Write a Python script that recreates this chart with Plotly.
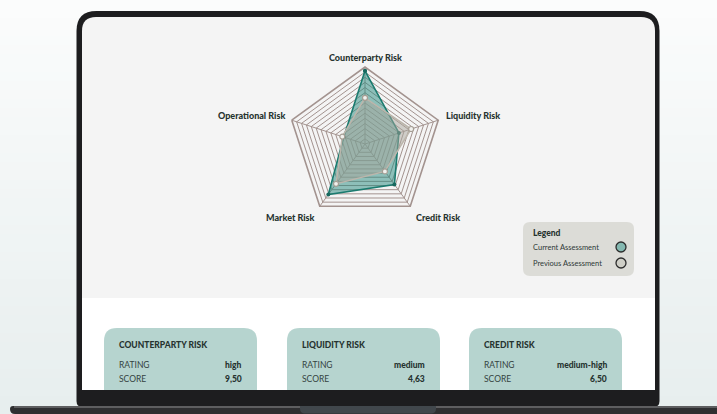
import plotly.graph_objects as go

# ---------------- data ----------------
categories = ["Counterparty Risk", "Liquidity Risk", "Credit Risk", "Market Risk", "Operational Risk"]
current_scores = [9.5, 4.63, 6.5, 8.1, 2.9]
previous_scores = [6.0, 6.3, 4.4, 6.4, 3.1]
series_names = ["Current Assessment", "Previous Assessment"]
legend_title = "Legend"
card_titles = ["COUNTERPARTY RISK", "LIQUIDITY RISK", "CREDIT RISK"]
card_ratings = ["high", "medium", "medium-high"]
card_scores = [9.50, 4.63, 6.50]
rating_label = "RATING"
score_label = "SCORE"
radial_max = 10
ring_count = 15

# ---------------- style ----------------
W, H = 717, 414
FONT = "Lato"
DARK = "#26332f"
GRID = "#a3938f"
TEAL_LINE = "#1b7b6f"
TEAL_FILL = "rgba(38,138,125,0.5)"
GRAY_LINE = "#bcb6ac"
GRAY_FILL = "rgba(170,165,155,0.5)"
CARD_FILL = "#b6d4cf"

cx, cy, R = 365, 144, 77


def rrect(x0, y0, x1, y1, rtl=0, rtr=0, rbr=0, rbl=0):
    return (f"M {x0+rtl},{y0} L {x1-rtr},{y0} Q {x1},{y0} {x1},{y0+rtr} "
            f"L {x1},{y1-rbr} Q {x1},{y1} {x1-rbr},{y1} L {x0+rbl},{y1} "
            f"Q {x0},{y1} {x0},{y1-rbl} L {x0},{y0+rtl} Q {x0},{y0} {x0+rtl},{y0} Z")


def pshape(path, fill, line=None, lw=0, layer="below"):
    return dict(type="path", path=path, xref="x", yref="y", fillcolor=fill,
                line=dict(color=line or fill, width=lw), layer=layer)


shapes = []
# smooth page gradient (white at top -> light bluish grey at bottom)
n_bands = 46
c_top, c_bot = (251, 252, 252), (231, 238, 238)
for i in range(n_bands):
    t = i / (n_bands - 1)
    col = "rgb(%d,%d,%d)" % tuple(round(a + (b - a) * t) for a, b in zip(c_top, c_bot))
    y0 = H * i / n_bands
    shapes.append(pshape(rrect(0, y0, W, y0 + H / n_bands + 0.5), col))
# laptop bezel
shapes.append(pshape(rrect(76.5, 11, 659.5, 407, 20, 20, 6, 6), "#1d1d1f"))
# screen
shapes.append(pshape(rrect(82, 17, 655, 298, 14, 14, 0, 0), "#f4f4f4"))
shapes.append(pshape(rrect(82, 298, 655, 390), "#ffffff"))
# base
shapes.append(pshape(rrect(10, 406, 722, 414, 3, 0, 0, 5), "#2f2f31"))
shapes.append(pshape(rrect(14, 406, 722, 408), "#5e5e60"))
shapes.append(pshape(rrect(300, 406, 436, 413.5, 0, 0, 5, 5), "#41474c"))

# cards
card_x = [104, 287, 469]
card_w = 153
for x0 in card_x:
    shapes.append(pshape(rrect(x0, 328, x0 + card_w, 390, 13, 13, 0, 0), CARD_FILL))

# legend box
shapes.append(pshape(rrect(523, 222, 634, 276, 7, 7, 7, 7), "#dcdcd7"))
legend_marker_fill = ["#84b8b0", "#cfcfc7"]
legend_y = [247, 263]
for yy, fc in zip(legend_y, legend_marker_fill):
    shapes.append(dict(type="circle", xref="x", yref="y", x0=616, x1=626, y0=yy - 5, y1=yy + 5,
                       fillcolor=fc, line=dict(color="#2c2c2c", width=1.3), layer="above"))

annotations = []
# axis labels
label_pos = {
    "Counterparty Risk": (365, 57, "center"),
    "Liquidity Risk": (444, 115, "left"),
    "Credit Risk": (414, 217, "left"),
    "Market Risk": (317, 217, "right"),
    "Operational Risk": (287, 115, "right"),
}
for cat in categories:
    x, y, anc = label_pos[cat]
    annotations.append(dict(x=x, y=y, xref="x", yref="y", text=cat, showarrow=False,
                            xanchor=anc, yanchor="middle",
                            font=dict(family=FONT, size=9, color=DARK, weight=900)))

# legend texts
annotations.append(dict(x=531, y=233, xref="x", yref="y", text=legend_title, showarrow=False,
                        xanchor="left", yanchor="middle",
                        font=dict(family=FONT, size=8.5, color=DARK, weight=900)))
for name, yy in zip(series_names, legend_y):
    annotations.append(dict(x=531, y=yy, xref="x", yref="y", text=name, showarrow=False,
                            xanchor="left", yanchor="middle",
                            font=dict(family=FONT, size=7.5, color="#2f3a37")))

# card texts
for x0, title, rating, score in zip(card_x, card_titles, card_ratings, card_scores):
    annotations.append(dict(x=x0 + 13, y=345, xref="x", yref="y", text=title, showarrow=False,
                            xanchor="left", yanchor="middle",
                            font=dict(family=FONT, size=8.5, color=DARK, weight=900)))
    for lab, val, yy in [(rating_label, rating, 365), (score_label, f"{score:.2f}".replace(".", ","), 379)]:
        annotations.append(dict(x=x0 + 13, y=yy, xref="x", yref="y", text=lab, showarrow=False,
                                xanchor="left", yanchor="middle",
                                font=dict(family=FONT, size=8.5, color="#34433f")))
        annotations.append(dict(x=x0 + card_w - 13, y=yy, xref="x", yref="y", text=val,
                                showarrow=False, xanchor="right", yanchor="middle",
                                font=dict(family=FONT, size=8.5, color=DARK, weight=900)))

fig = go.Figure()
# invisible helper trace to anchor the pixel-space cartesian axes
fig.add_trace(go.Scatter(x=[None], y=[None], xaxis="x", yaxis="y", showlegend=False,
                         hoverinfo="skip"))

fig.add_trace(go.Scatterpolar(
    r=current_scores + current_scores[:1], theta=categories + categories[:1],
    name=series_names[0], mode="lines+markers", fill="toself", fillcolor=TEAL_FILL,
    line=dict(color=TEAL_LINE, width=1.6),
    marker=dict(size=4, color="#17685e"), showlegend=False))
fig.add_trace(go.Scatterpolar(
    r=previous_scores + previous_scores[:1], theta=categories + categories[:1],
    name=series_names[1], mode="lines+markers", fill="toself", fillcolor=GRAY_FILL,
    line=dict(color=GRAY_LINE, width=1.5),
    marker=dict(size=5, color="#f1f1ee", line=dict(color="#a59e94", width=1.2)),
    showlegend=False))

ring_vals = [radial_max * i / ring_count for i in range(1, ring_count)]

fig.update_layout(
    width=W, height=H, margin=dict(l=0, r=0, t=0, b=0),
    paper_bgcolor="#f3f6f6", plot_bgcolor="rgba(0,0,0,0)",
    xaxis=dict(range=[0, W], domain=[0, 1], visible=False, fixedrange=True),
    yaxis=dict(range=[H, 0], domain=[0, 1], visible=False, fixedrange=True),
    polar=dict(
        domain=dict(x=[(cx - R) / W, (cx + R) / W], y=[(H - cy - R) / H, (H - cy + R) / H]),
        gridshape="linear", bgcolor="rgba(0,0,0,0)",
        angularaxis=dict(rotation=90, direction="clockwise", showticklabels=False, ticks="",
                         linecolor=GRID, linewidth=1.6, gridcolor=GRID, gridwidth=1,
                         categoryorder="array", categoryarray=categories),
        radialaxis=dict(range=[0, radial_max], tickvals=ring_vals, showticklabels=False,
                        ticks="", showline=False, gridcolor=GRID, gridwidth=1),
    ),
    shapes=shapes, annotations=annotations, showlegend=False,
)

fig.write_html("out.html", config={"displayModeBar": False},
               post_script="document.body.style.margin='0';document.body.style.overflow='hidden';")
